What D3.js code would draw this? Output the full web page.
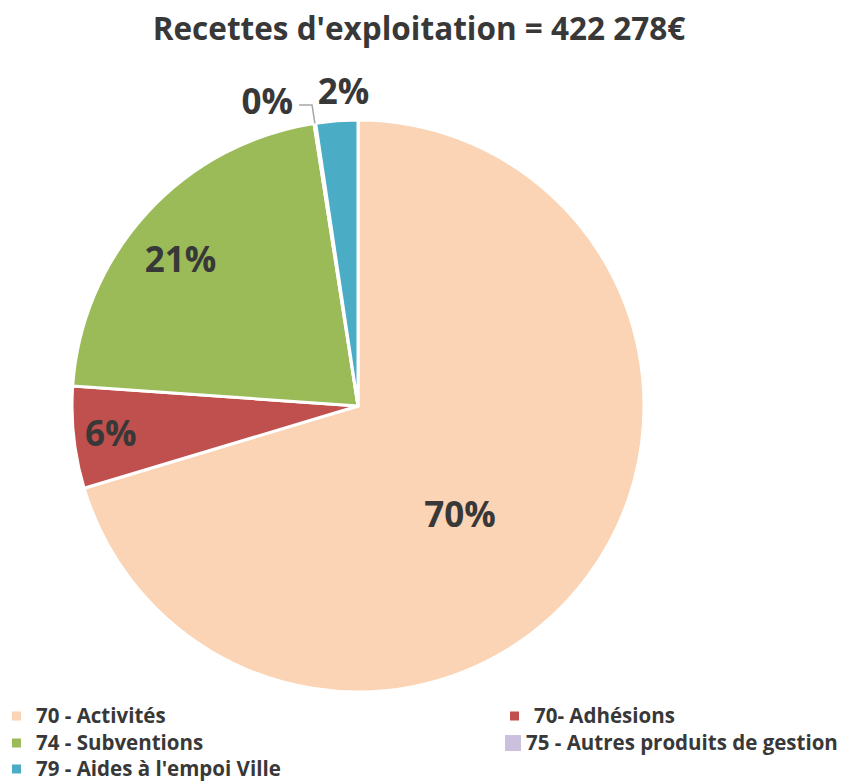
<!DOCTYPE html>
<html>
<head>
<meta charset="utf-8">
<script src="https://cdn.jsdelivr.net/npm/d3@7"></script>
<style>
  body { margin: 0; background: #fff; }
  text { font-family: "Open Sans", Lato, sans-serif; font-weight: bold; fill: #383838; }
</style>
</head>
<body>
<div id="grafico"></div>
<script>
// data
const categories = ["70 - Activités", "70- Adhésions", "74 - Subventions", "75 - Autres produits de gestion", "79 - Aides à l'empoi Ville"];
const values = [297100, 24300, 90500, 400, 9978];
const colors = ["#FAD4B4", "#C0504D", "#9BBB59", "#CBC0DD", "#4BACC6"];
const title = "Recettes d'exploitation = 422 278€";

const width = 845, height = 781;
const cx = 358, cy = 406, radius = 286;

let svg = d3.select("#grafico")
  .append("svg")
  .attr("width", width)
  .attr("height", height);

svg.append("text")
  .attr("x", 419)
  .attr("y", 40)
  .attr("text-anchor", "middle")
  .attr("font-size", "31.5px")
  .text(title);

let data = categories.map((c, i) => ({ name: c, value: values[i], color: colors[i] }));
let total = d3.sum(values);

let pie = d3.pie().sort(null).value(d => d.value);
let arcs = pie(data);
let arc = d3.arc().innerRadius(0).outerRadius(radius);

let g = svg.append("g").attr("transform", `translate(${cx},${cy})`);

g.selectAll("path")
  .data(arcs)
  .enter()
  .append("path")
  .attr("d", arc)
  .attr("fill", d => d.data.color)
  .attr("stroke", "#fff")
  .attr("stroke-width", 3)
  .attr("stroke-linejoin", "round");

// label radius (fraction of radius) and angle shift (deg) per slice
const labelRadius = [0.52, 0.87, 0.805, null, 1.10];
const labelShift = [10, 0, -3, 0, 1.6];

let pct = d => Math.round(d.value / total * 100) + "%";

arcs.forEach((d, i) => {
  let mid = (d.startAngle + d.endAngle) / 2;
  if (labelRadius[i] != null) {
    let r = radius * labelRadius[i];
    let a = mid + labelShift[i] * Math.PI / 180;
    g.append("text")
      .attr("x", Math.sin(a) * r)
      .attr("y", -Math.cos(a) * r)
      .attr("dy", "0.36em")
      .attr("text-anchor", "middle")
      .attr("font-size", "35px")
      .text(pct(d.data));
  } else {
    // small slice: label outside with leader line
    let p0 = [Math.sin(mid) * radius, -Math.cos(mid) * radius];
    let r1 = radius * 1.065;
    let p1 = [Math.sin(mid) * r1, -Math.cos(mid) * r1];
    let p2 = [p1[0] - 13, p1[1]];
    g.append("polyline")
      .attr("points", [p0, p1, p2].map(p => p.join(",")).join(" "))
      .attr("fill", "none")
      .attr("stroke", "#a6a6a6")
      .attr("stroke-width", 1.5);
    g.append("text")
      .attr("x", p2[0] - 6)
      .attr("y", p2[1])
      .attr("dy", "0.25em")
      .attr("text-anchor", "end")
      .attr("font-size", "35px")
      .text(pct(d.data));
  }
});

// legend
const legendPos = [[12, 716], [510, 716], [12, 743], [505, 743], [12, 769]];
const markerSize = [9, 9, 9, 16, 9];

arcs.forEach((d, i) => {
  let [lx, ly] = legendPos[i];
  let s = markerSize[i];
  svg.append("rect")
    .attr("x", lx)
    .attr("y", ly - s / 2)
    .attr("width", s)
    .attr("height", s)
    .attr("fill", d.data.color);
  svg.append("text")
    .attr("x", lx + s + (s > 10 ? 5 : 15))
    .attr("y", ly)
    .attr("dy", "0.35em")
    .attr("font-size", "20.5px")
    .text(d.data.name);
});
</script>
</body>
</html>
